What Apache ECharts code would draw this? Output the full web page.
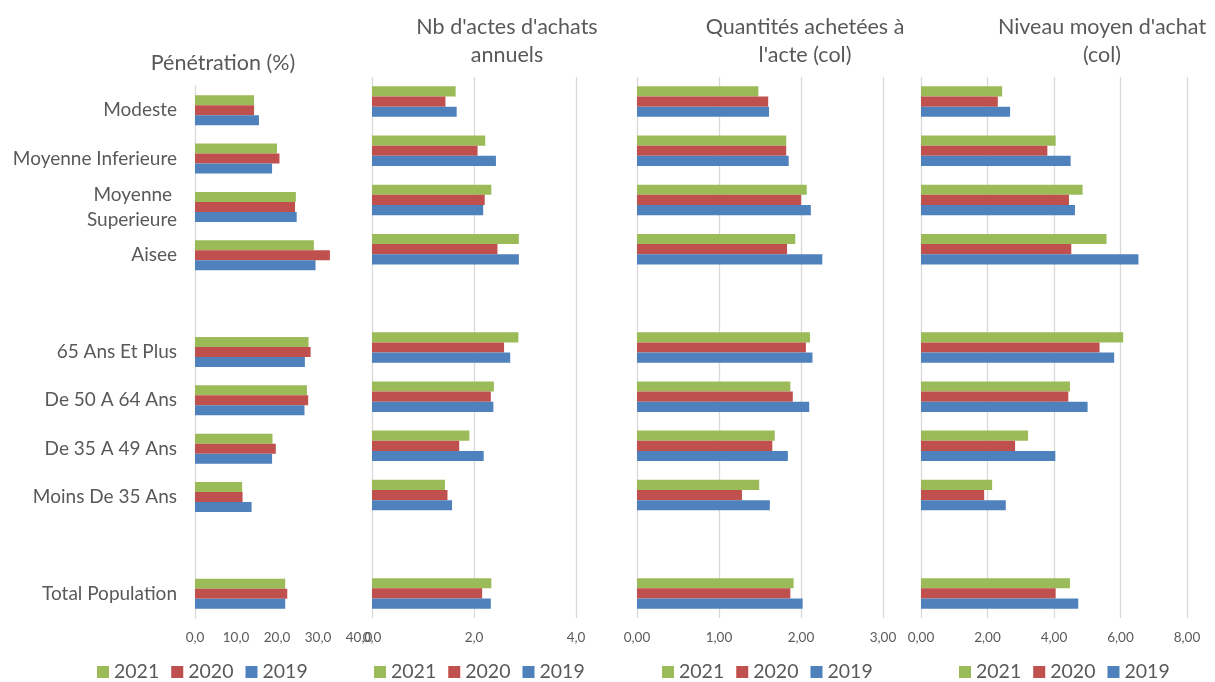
<!DOCTYPE html>
<html>
<head>
<meta charset="utf-8">
<script src="https://cdn.jsdelivr.net/npm/echarts@6/dist/echarts.min.js"></script>
<style>
html,body{margin:0;padding:0;background:#fff;}
#chart{width:1215px;height:682px;}
</style>
</head>
<body>
<div id="chart"></div>
<script>
const categories = ['Modeste', 'Moyenne Inferieure', 'Moyenne \nSuperieure', 'Aisee', '', '65 Ans Et Plus', 'De 50 A 64 Ans', 'De 35 A 49 Ans', 'Moins De 35 Ans', ' ', 'Total Population'];
const years = ['2021', '2020', '2019'];
const panelTitles = ['Pénétration (%)', "Nb d'actes d'achats\nannuels", 'Quantités achetées à\nl\'acte (col)', "Niveau moyen d'achat\n(col)"];

const penetration2021 = [14.4, 20.0, 24.6, 29.0, null, 27.7, 27.3, 18.9, 11.5, null, 22.0];
const penetration2020 = [14.4, 20.6, 24.4, 32.9, null, 28.2, 27.6, 19.7, 11.6, null, 22.5];
const penetration2019 = [15.6, 18.8, 24.8, 29.4, null, 26.8, 26.7, 18.8, 13.8, null, 22.0];

const actes2021 = [1.64, 2.22, 2.34, 2.88, null, 2.87, 2.39, 1.91, 1.43, null, 2.34];
const actes2020 = [1.44, 2.07, 2.21, 2.46, null, 2.59, 2.33, 1.71, 1.48, null, 2.16];
const actes2019 = [1.66, 2.43, 2.18, 2.88, null, 2.71, 2.38, 2.19, 1.57, null, 2.33];

const quantites2021 = [1.48, 1.82, 2.07, 1.93, null, 2.11, 1.87, 1.68, 1.49, null, 1.91];
const quantites2020 = [1.60, 1.82, 2.00, 1.83, null, 2.06, 1.90, 1.65, 1.28, null, 1.87];
const quantites2019 = [1.61, 1.85, 2.12, 2.26, null, 2.14, 2.10, 1.84, 1.62, null, 2.02];

const niveau2021 = [2.44, 4.05, 4.86, 5.58, null, 6.08, 4.48, 3.22, 2.14, null, 4.48];
const niveau2020 = [2.31, 3.80, 4.45, 4.52, null, 5.37, 4.43, 2.83, 1.90, null, 4.05];
const niveau2019 = [2.68, 4.50, 4.63, 6.54, null, 5.81, 5.01, 4.04, 2.55, null, 4.73];

const axisMax = [40, 4, 3, 8];
const axisInterval = [10, 2, 1, 2];
const axisDecimals = [1, 1, 2, 2];

const panelData = [
  [penetration2021, penetration2020, penetration2019],
  [actes2021, actes2020, actes2019],
  [quantites2021, quantites2020, quantites2019],
  [niveau2021, niveau2020, niveau2019]
];

const colors = ['#9BBB59', '#C0504D', '#4F81BD'];
const FONT = 'Lato, "Open Sans", sans-serif';
const TXT = '#595959';
const GRID_LINE = '#D9D9D9';

const grids = [
  { left: 195, top: 86, width: 164, height: 532 },
  { left: 372, top: 77, width: 204, height: 541 },
  { left: 637, top: 77, width: 246, height: 541 },
  { left: 921, top: 77, width: 266, height: 541 }
];
const titlePos = [[223, 63], [507, 41], [805, 41], [1102, 41]];
const legendLeft = [92, 369, 657, 954];

const option = {
  animation: false,
  backgroundColor: '#fff',
  color: colors,
  textStyle: { fontFamily: FONT },
  grid: grids.map(g => Object.assign({ containLabel: false }, g)),
  xAxis: grids.map((g, i) => ({
    type: 'value',
    gridIndex: i,
    min: 0,
    max: axisMax[i],
    interval: axisInterval[i],
    axisLine: { show: false },
    axisTick: { show: false },
    splitLine: { show: i > 0, lineStyle: { color: GRID_LINE, width: 1.3 } },
    axisLabel: {
      margin: 13,
      color: TXT,
      fontSize: 13.5,
      fontFamily: FONT,
      formatter: v => v.toFixed(axisDecimals[i]).replace('.', ',')
    }
  })),
  yAxis: grids.map((g, i) => ({
    type: 'category',
    gridIndex: i,
    inverse: true,
    data: categories,
    axisLine: { show: i === 0, lineStyle: { color: GRID_LINE, width: 1.3 } },
    axisTick: { show: false },
    axisLabel: {
      show: i === 0,
      margin: 18,
      color: TXT,
      fontSize: 19,
      lineHeight: 25,
      fontFamily: FONT
    }
  })),
  legend: legendLeft.map(l => ({
    data: years,
    left: l,
    top: 657,
    icon: 'rect',
    itemWidth: 12,
    itemHeight: 12,
    itemGap: 12,
    textStyle: { color: TXT, fontSize: 19.5, fontFamily: FONT },
    selectedMode: false
  })),
  series: [],
  graphic: panelTitles.map((t, i) => ({
    type: 'text',
    x: titlePos[i][0],
    y: titlePos[i][1],
    style: {
      text: t,
      align: 'center',
      verticalAlign: 'middle',
      fill: TXT,
      font: '21.5px ' + FONT,
      lineHeight: 28
    }
  }))
};

panelData.forEach((arrs, p) => {
  arrs.forEach((arr, k) => {
    option.series.push({
      type: 'bar',
      name: years[k],
      xAxisIndex: p,
      yAxisIndex: p,
      data: arr,
      barGap: '0%',
      barCategoryGap: '38%',
      itemStyle: { color: colors[k] }
    });
  });
});

const chart = echarts.init(document.getElementById('chart'), null, { renderer: 'canvas' });
chart.setOption(option);
</script>
</body>
</html>
